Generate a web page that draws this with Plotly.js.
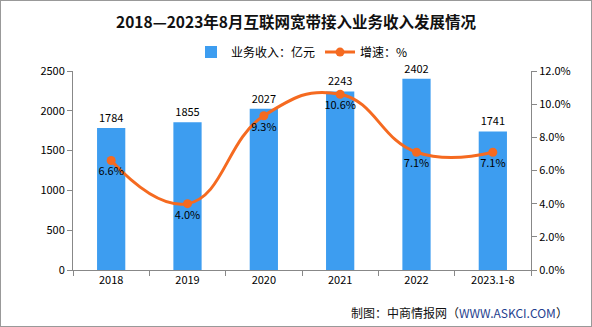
<!DOCTYPE html>
<html><head><meta charset="utf-8">
<script src="https://cdn.plot.ly/plotly-3.0.1.min.js"></script>
<style>html,body{margin:0;padding:0;background:#fff}#c{width:592px;height:327px}
#frame{position:absolute;left:0;top:0;width:590px;height:325px;border:1px solid #999;pointer-events:none}</style>
</head><body><div id="c"></div><div id="frame"></div>
<script>
const categories = ["2018","2019","2020","2021","2022","2023.1-8"];
const revenue = [1784,1855,2027,2243,2402,1741];
const growth = [6.6,4.0,9.3,10.6,7.1,7.1];
const growthLabels = ["6.6%","4.0%","9.3%","10.6%","7.1%","7.1%"];
const yTicks = [0,500,1000,1500,2000,2500];
const y2Ticks = [0,2,4,6,8,10,12];
const y2TickText = ["0.0%","2.0%","4.0%","6.0%","8.0%","10.0%","12.0%"];

const font = "'Noto Sans CJK SC', 'DejaVu Sans', sans-serif";
const data = [
  {type:"bar", x:categories, y:revenue, name:"业务收入：亿元",
   marker:{color:"#3D9DF0"}, text:revenue.map(String), textposition:"outside",
   textfont:{size:11,color:"#000",family:font}, cliponaxis:false, width:0.37},
  {type:"scatter", mode:"lines+markers+text", x:categories, y:growth, yaxis:"y2", name:"增速：%",
   line:{color:"#F56A20", width:3, shape:"spline", smoothing:1.3},
   marker:{color:"#F56A20", size:9},
   text:growthLabels, textposition:"bottom center",
   textfont:{size:11,color:"#000",family:font}, cliponaxis:false}
];
const layout = {
  width:592, height:327,
  margin:{l:73, r:61, t:71, b:57},
  paper_bgcolor:"#fff", plot_bgcolor:"#fff",
  font:{family:font, size:11, color:"#000"},
  title:{text:"<b>2018—2023年8月互联网宽带接入业务收入发展情况</b>", x:0.5, xanchor:"center", y:0.93, yanchor:"middle",
         font:{size:15.5, family:font, color:"#111"}},
  showlegend:true,
  legend:{orientation:"h", x:0.5, xanchor:"center", y:1.095, yanchor:"middle", font:{size:12,family:font},
          bgcolor:"rgba(0,0,0,0)", itemwidth:30},
  xaxis:{type:"category", showline:true, linecolor:"#888", ticks:"outside", tickson:"boundaries", ticklen:5, tickcolor:"#888",
         showgrid:false, tickfont:{size:11}},
  yaxis:{range:[0,2500], tickvals:yTicks, showline:true, linecolor:"#888", ticks:"outside", ticklen:5, tickcolor:"#888",
         showgrid:false, zeroline:false, tickfont:{size:11}},
  yaxis2:{overlaying:"y", side:"right", range:[0,12], tickvals:y2Ticks, ticktext:y2TickText, showline:true, linecolor:"#888",
          ticks:"outside", ticklen:5, tickcolor:"#888", showgrid:false, zeroline:false, tickfont:{size:11}},
  annotations:[{text:"制图：中商情报网（<span style='color:#1f3f8f'>WWW.ASKCI.COM</span>）", xref:"paper", yref:"paper",
    x:1.085, xanchor:"right", y:-0.215, yanchor:"middle", showarrow:false, font:{size:12, family:font, color:"#111"}}]
};
Plotly.newPlot("c", data, layout, {displayModeBar:false, staticPlot:true});
</script></body></html>
